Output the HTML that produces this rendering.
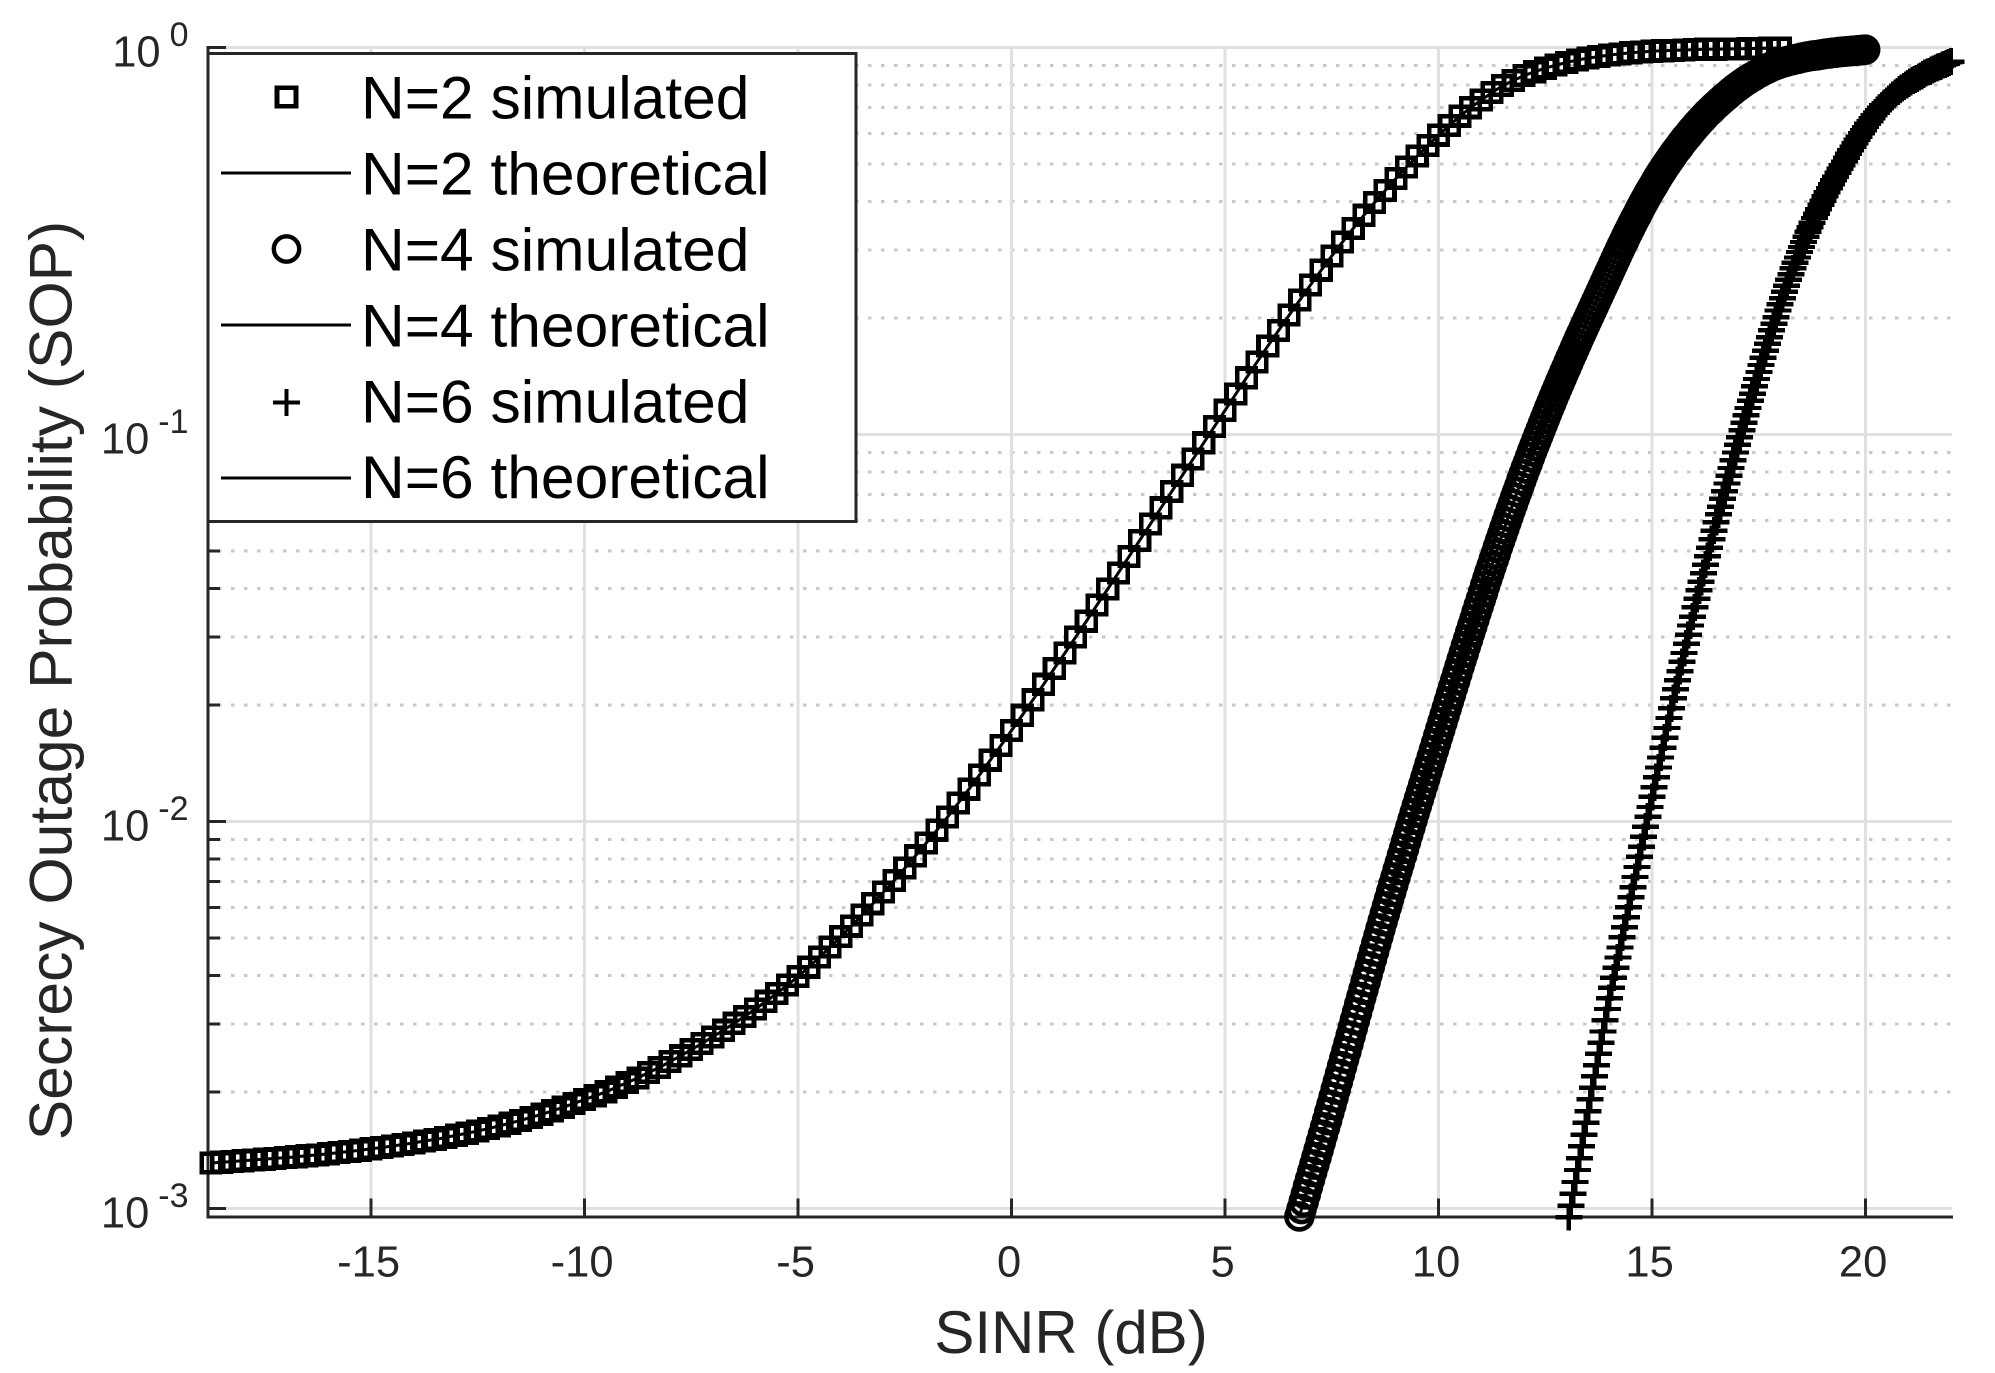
<!DOCTYPE html>
<html lang="en">
<head>
<meta charset="utf-8">
<title>Secrecy Outage Probability vs SINR</title>
<style>
  html, body { margin: 0; padding: 0; background: #ffffff; }
  svg { display: block; font-family: "Liberation Sans", Arial, sans-serif; }
</style>
</head>
<body>
<svg id="chart" xmlns="http://www.w3.org/2000/svg" width="1995" height="1373" viewBox="0 0 1995 1373">
  <rect x="0" y="0" width="1995" height="1373" fill="#ffffff"/>
  <g id="grid"></g>
  <g id="axes"></g>
  <g id="series"></g>
  <text x="1071" y="1353" font-size="60" text-anchor="middle" fill="#262626">SINR (dB)</text>
  <text transform="translate(71.5,680.5) rotate(-90)" font-size="60.6" text-anchor="middle" fill="#262626">Secrecy Outage Probability (SOP)</text>
  <g>
    <rect x="208" y="53.5" width="648" height="468" fill="#ffffff" stroke="#262626" stroke-width="3"/>
    <g>
      <rect x="277" y="87.7" width="19" height="18.6" fill="none" stroke="#000" stroke-width="4.6" shape-rendering="crispEdges"/>
      <text x="361" y="118.6" font-size="60.5" fill="#000">N=2 simulated</text>
    </g>
    <g>
      <line x1="221" x2="351" y1="173" y2="173" stroke="#000" stroke-width="3" shape-rendering="crispEdges"/>
      <text x="361" y="194.6" font-size="60.5" fill="#000">N=2 theoretical</text>
    </g>
    <g>
      <circle cx="286.5" cy="249" r="12.7" fill="none" stroke="#000" stroke-width="4.4"/>
      <text x="361" y="270.7" font-size="60.5" fill="#000">N=4 simulated</text>
    </g>
    <g>
      <line x1="221" x2="351" y1="325" y2="325" stroke="#000" stroke-width="3" shape-rendering="crispEdges"/>
      <text x="361" y="346.4" font-size="60.5" fill="#000">N=4 theoretical</text>
    </g>
    <g>
      <path d="M273 402.5H300M286.5 389V416" fill="none" stroke="#000" stroke-width="3.6" shape-rendering="crispEdges"/>
      <text x="361" y="422.5" font-size="60.5" fill="#000">N=6 simulated</text>
    </g>
    <g>
      <line x1="221" x2="351" y1="478" y2="478" stroke="#000" stroke-width="3" shape-rendering="crispEdges"/>
      <text x="361" y="498.2" font-size="60.5" fill="#000">N=6 theoretical</text>
    </g>
  </g>
</svg>
<script>
// ---- chart data (SOP values stored as log10(SOP)) ----
const xTickValues = [-15, -10, -5, 0, 5, 10, 15, 20];
const yTickExponents = [0, -1, -2, -3];
const yMinorMultipliers = [2, 3, 4, 5, 6, 7, 8, 9];

const n2SinrStart = -18.75;
const n2SinrStep = 0.25;
const n2Log10Sop = [
  -2.882,-2.880,-2.878,-2.876,-2.874,-2.872,-2.870,-2.868,-2.866,-2.863,-2.861,-2.858,-2.855,-2.852,-2.849,-2.845,
  -2.842,-2.838,-2.834,-2.830,-2.825,-2.821,-2.816,-2.810,-2.805,-2.799,-2.793,-2.786,-2.779,-2.772,-2.764,-2.756,-2.747,-2.738,-2.728,-2.718,
  -2.708,-2.698,-2.686,-2.674,-2.662,-2.648,-2.635,-2.620,-2.605,-2.589,-2.573,-2.556,-2.539,-2.521,-2.503,-2.484,-2.464,-2.444,-2.422,-2.400,
  -2.376,-2.350,-2.324,-2.297,-2.270,-2.241,-2.212,-2.182,-2.152,-2.120,-2.088,-2.055,-2.022,-1.988,-1.952,-1.916,-1.879,-1.841,-1.803,-1.764,
  -1.725,-1.685,-1.645,-1.604,-1.564,-1.523,-1.482,-1.440,-1.399,-1.357,-1.315,-1.273,-1.231,-1.189,-1.147,-1.105,-1.063,-1.021,-0.979,-0.937,
  -0.895,-0.853,-0.812,-0.771,-0.731,-0.691,-0.652,-0.613,-0.575,-0.538,-0.502,-0.467,-0.433,-0.400,-0.369,-0.338,-0.308,-0.280,-0.253,-0.226,
  -0.201,-0.177,-0.155,-0.135,-0.116,-0.098,-0.085,-0.072,-0.062,-0.053,-0.045,-0.038,-0.032,-0.027,-0.023,-0.019,-0.016,-0.013,-0.011,-0.009,
  -0.008,-0.007,-0.006,-0.005,-0.004,-0.004,-0.003,-0.003,-0.002,-0.002,-0.001,-0.001
];

const n4SinrStart = 6.74;
const n4SinrStep = 0.05;
const n4Log10Sop = [
  -3.020,-3.001,-2.982,-2.963,-2.943,-2.924,-2.905,-2.886,-2.867,-2.848,-2.828,-2.809,-2.790,-2.771,-2.751,-2.732,-2.712,-2.692,-2.672,-2.652,
  -2.632,-2.612,-2.593,-2.573,-2.553,-2.533,-2.513,-2.493,-2.473,-2.453,-2.434,-2.414,-2.394,-2.374,-2.354,-2.335,-2.315,-2.296,-2.276,-2.257,
  -2.238,-2.219,-2.200,-2.181,-2.162,-2.144,-2.125,-2.107,-2.088,-2.070,-2.051,-2.032,-2.014,-1.995,-1.977,-1.959,-1.941,-1.923,-1.905,-1.887,
  -1.869,-1.851,-1.833,-1.815,-1.797,-1.779,-1.761,-1.743,-1.725,-1.707,-1.689,-1.671,-1.653,-1.635,-1.617,-1.599,-1.581,-1.564,-1.546,-1.529,
  -1.511,-1.494,-1.477,-1.459,-1.442,-1.425,-1.408,-1.390,-1.373,-1.356,-1.340,-1.323,-1.307,-1.290,-1.274,-1.258,-1.242,-1.226,-1.210,-1.194,
  -1.179,-1.163,-1.148,-1.133,-1.117,-1.102,-1.087,-1.073,-1.058,-1.043,-1.029,-1.015,-1.001,-0.987,-0.973,-0.959,-0.945,-0.931,-0.918,-0.904,
  -0.891,-0.878,-0.865,-0.852,-0.839,-0.827,-0.814,-0.801,-0.789,-0.776,-0.764,-0.751,-0.739,-0.727,-0.715,-0.703,-0.691,-0.679,-0.667,-0.655,
  -0.643,-0.631,-0.619,-0.607,-0.595,-0.583,-0.571,-0.559,-0.547,-0.535,-0.523,-0.511,-0.500,-0.488,-0.477,-0.466,-0.455,-0.444,-0.434,-0.423,
  -0.412,-0.402,-0.392,-0.382,-0.372,-0.363,-0.354,-0.344,-0.335,-0.326,-0.318,-0.309,-0.301,-0.293,-0.285,-0.277,-0.269,-0.262,-0.255,-0.247,
  -0.240,-0.233,-0.227,-0.220,-0.213,-0.207,-0.200,-0.194,-0.188,-0.182,-0.176,-0.170,-0.165,-0.160,-0.154,-0.149,-0.144,-0.139,-0.134,-0.129,
  -0.125,-0.120,-0.115,-0.111,-0.106,-0.102,-0.098,-0.094,-0.090,-0.086,-0.083,-0.079,-0.076,-0.073,-0.069,-0.066,-0.063,-0.060,-0.057,-0.055,
  -0.052,-0.049,-0.047,-0.045,-0.043,-0.041,-0.039,-0.037,-0.036,-0.034,-0.033,-0.032,-0.030,-0.029,-0.028,-0.026,-0.025,-0.024,-0.023,-0.022,
  -0.021,-0.020,-0.020,-0.019,-0.018,-0.017,-0.016,-0.015,-0.015,-0.014,-0.013,-0.013,-0.012,-0.011,-0.011,-0.010,-0.010,-0.009,-0.009,-0.008,
  -0.008,-0.007,-0.007,-0.006,-0.006,-0.005
];

const n6SinrStart = 13.05;
const n6SinrStep = 0.05;
const n6Log10Sop = [
  -3.022,-2.992,-2.961,-2.931,-2.900,-2.870,-2.839,-2.809,-2.778,-2.748,-2.717,-2.687,-2.658,-2.629,-2.600,-2.571,-2.542,-2.513,-2.484,-2.456,
  -2.429,-2.403,-2.377,-2.351,-2.325,-2.299,-2.273,-2.247,-2.221,-2.195,-2.169,-2.143,-2.117,-2.091,-2.065,-2.039,-2.013,-1.987,-1.962,-1.936,
  -1.911,-1.885,-1.860,-1.834,-1.809,-1.783,-1.758,-1.732,-1.707,-1.681,-1.658,-1.634,-1.611,-1.587,-1.564,-1.540,-1.517,-1.493,-1.470,-1.446,
  -1.424,-1.402,-1.380,-1.358,-1.336,-1.314,-1.292,-1.270,-1.248,-1.226,-1.206,-1.186,-1.166,-1.146,-1.126,-1.106,-1.086,-1.066,-1.046,-1.026,
  -1.007,-0.988,-0.969,-0.950,-0.931,-0.912,-0.894,-0.875,-0.856,-0.838,-0.820,-0.801,-0.783,-0.765,-0.748,-0.730,-0.713,-0.696,-0.679,-0.663,
  -0.647,-0.631,-0.615,-0.600,-0.585,-0.570,-0.556,-0.542,-0.528,-0.515,-0.502,-0.489,-0.476,-0.464,-0.452,-0.440,-0.429,-0.417,-0.406,-0.395,
  -0.384,-0.374,-0.363,-0.353,-0.343,-0.333,-0.323,-0.313,-0.304,-0.294,-0.284,-0.274,-0.265,-0.256,-0.247,-0.238,-0.230,-0.221,-0.213,-0.205,
  -0.197,-0.190,-0.182,-0.175,-0.168,-0.162,-0.155,-0.149,-0.143,-0.138,-0.132,-0.127,-0.122,-0.117,-0.113,-0.108,-0.104,-0.100,-0.096,-0.092,
  -0.089,-0.085,-0.082,-0.079,-0.076,-0.073,-0.069,-0.066,-0.063,-0.061,-0.058,-0.055,-0.053,-0.050,-0.048,-0.045,-0.043,-0.041,-0.038,-0.036
];

// ---- axis functions ----
const SVG_NS = 'http://www.w3.org/2000/svg';
const plotLeft = 208;
const plotRight = 1952;
const plotBottom = 1217;
const xScale = function (sinrDb) { return 1011.6 + sinrDb * 42.7; };
const yScale = function (log10Sop) { return 47.7 - log10Sop * 387; };

function make(tag, parent, attrs) {
  const el = document.createElementNS(SVG_NS, tag);
  Object.keys(attrs).forEach(function (k) { el.setAttribute(k, attrs[k]); });
  parent.appendChild(el);
  return el;
}

const gridGroup = document.getElementById('grid');
const axesGroup = document.getElementById('axes');
const seriesGroup = document.getElementById('series');

// minor horizontal dotted grid and ticks
yTickExponents.slice(1).forEach(function (exp) {
  yMinorMultipliers.forEach(function (m) {
    const y = yScale(exp + Math.log10(m));
    const g = make('line', gridGroup, { x1: plotLeft, x2: plotRight, y1: y, y2: y, stroke: '#c8c8c8', 'stroke-width': 3, 'stroke-dasharray': '3.6 9.4', 'stroke-dashoffset': 3, 'shape-rendering': 'crispEdges' });
    
    
    const t = make('line', axesGroup, { x1: plotLeft, x2: plotLeft + 12, y1: y, y2: y, stroke: '#262626', 'stroke-width': 3, 'shape-rendering': 'crispEdges' });
    
    
  });
});

// major horizontal grid, ticks and labels
yTickExponents.forEach(function (exp) {
  const y = yScale(exp);
  const g = make('line', gridGroup, { x1: plotLeft, x2: plotRight, y1: y, y2: y, stroke: '#e0e0e0', 'stroke-width': 3, 'shape-rendering': 'crispEdges' });
  
  
  const t = make('line', axesGroup, { x1: plotLeft, x2: plotLeft + 18, y1: y, y2: y, stroke: '#262626', 'stroke-width': 3, 'shape-rendering': 'crispEdges' });
  
  
  const expWidth = 34 * (0.556 + (exp < 0 ? 0.333 : 0));
  const base = make('text', axesGroup, { x: 188.5 - expWidth - 9, y: y + 18.7, 'font-size': 43.5, 'text-anchor': 'end', fill: '#262626' });
  base.textContent = '10';
  
  
  const sup = make('text', axesGroup, { x: 188.5, y: y - 1.7, 'font-size': 34, 'text-anchor': 'end', fill: '#262626' });
  sup.textContent = String(exp);
  
  
});

// vertical grid, ticks and labels
xTickValues.forEach(function (v) {
  const x = xScale(v);
  const g = make('line', gridGroup, { x1: x, x2: x, y1: yScale(0), y2: plotBottom, stroke: '#e0e0e0', 'stroke-width': 3, 'shape-rendering': 'crispEdges' });
  
  
  const t = make('line', axesGroup, { x1: x, x2: x, y1: plotBottom - 18.5, y2: plotBottom, stroke: '#262626', 'stroke-width': 3, 'shape-rendering': 'crispEdges' });
  
  
  const l = make('text', axesGroup, { x: x - 2.5, y: 1276.7, 'font-size': 43.5, 'text-anchor': 'middle', fill: '#262626' });
  l.textContent = String(v);
  
  
});

// axis lines
const yAxisLine = make('line', axesGroup, { x1: plotLeft, x2: plotLeft, y1: 46, y2: plotBottom + 1.5, stroke: '#262626', 'stroke-width': 3, 'shape-rendering': 'crispEdges' });


const xAxisLine = make('line', axesGroup, { x1: plotLeft, x2: 1953, y1: plotBottom, y2: plotBottom, stroke: '#262626', 'stroke-width': 3, 'shape-rendering': 'crispEdges' });



// series drawing
function theoreticalPath(start, step, values) {
  return values.map(function (v, i) {
    return (i ? 'L' : 'M') + xScale(start + i * step).toFixed(2) + ' ' + yScale(v).toFixed(2);
  }).join('');
}

// N=2
n2Log10Sop.forEach(function (v, i) {
  const cx = xScale(n2SinrStart + i * n2SinrStep);
  const cy = yScale(v);
  const m = make('rect', seriesGroup, { x: cx - 9.3, y: cy - 9.3, width: 18.6, height: 18.6, fill: 'none', stroke: '#000', 'stroke-width': 4.6, 'shape-rendering': 'crispEdges' });
  
  
});
const n2Line = make('path', seriesGroup, { d: theoreticalPath(n2SinrStart, n2SinrStep, n2Log10Sop), fill: 'none', stroke: '#000', 'stroke-width': 3 });



// N=4
n4Log10Sop.forEach(function (v, i) {
  const cx = xScale(n4SinrStart + i * n4SinrStep);
  const cy = yScale(v);
  const m = make('circle', seriesGroup, { cx: cx, cy: cy, r: 13, fill: 'none', stroke: '#000', 'stroke-width': 4.6 });
  
  
});
const n4Line = make('path', seriesGroup, { d: theoreticalPath(n4SinrStart, n4SinrStep, n4Log10Sop), fill: 'none', stroke: '#000', 'stroke-width': 3 });



// N=6
n6Log10Sop.forEach(function (v, i) {
  const cx = xScale(n6SinrStart + i * n6SinrStep);
  const cy = yScale(v);
  const d = 'M' + (cx - 13.5) + ' ' + cy + 'H' + (cx + 13.5) + 'M' + cx + ' ' + (cy - 13.5) + 'V' + (cy + 13.5);
  const m = make('path', seriesGroup, { d: d, fill: 'none', stroke: '#000', 'stroke-width': 4.4, 'shape-rendering': 'crispEdges' });
  
  
});
const n6Line = make('path', seriesGroup, { d: theoreticalPath(n6SinrStart, n6SinrStep, n6Log10Sop), fill: 'none', stroke: '#000', 'stroke-width': 3 });


</script>
</body>
</html>
